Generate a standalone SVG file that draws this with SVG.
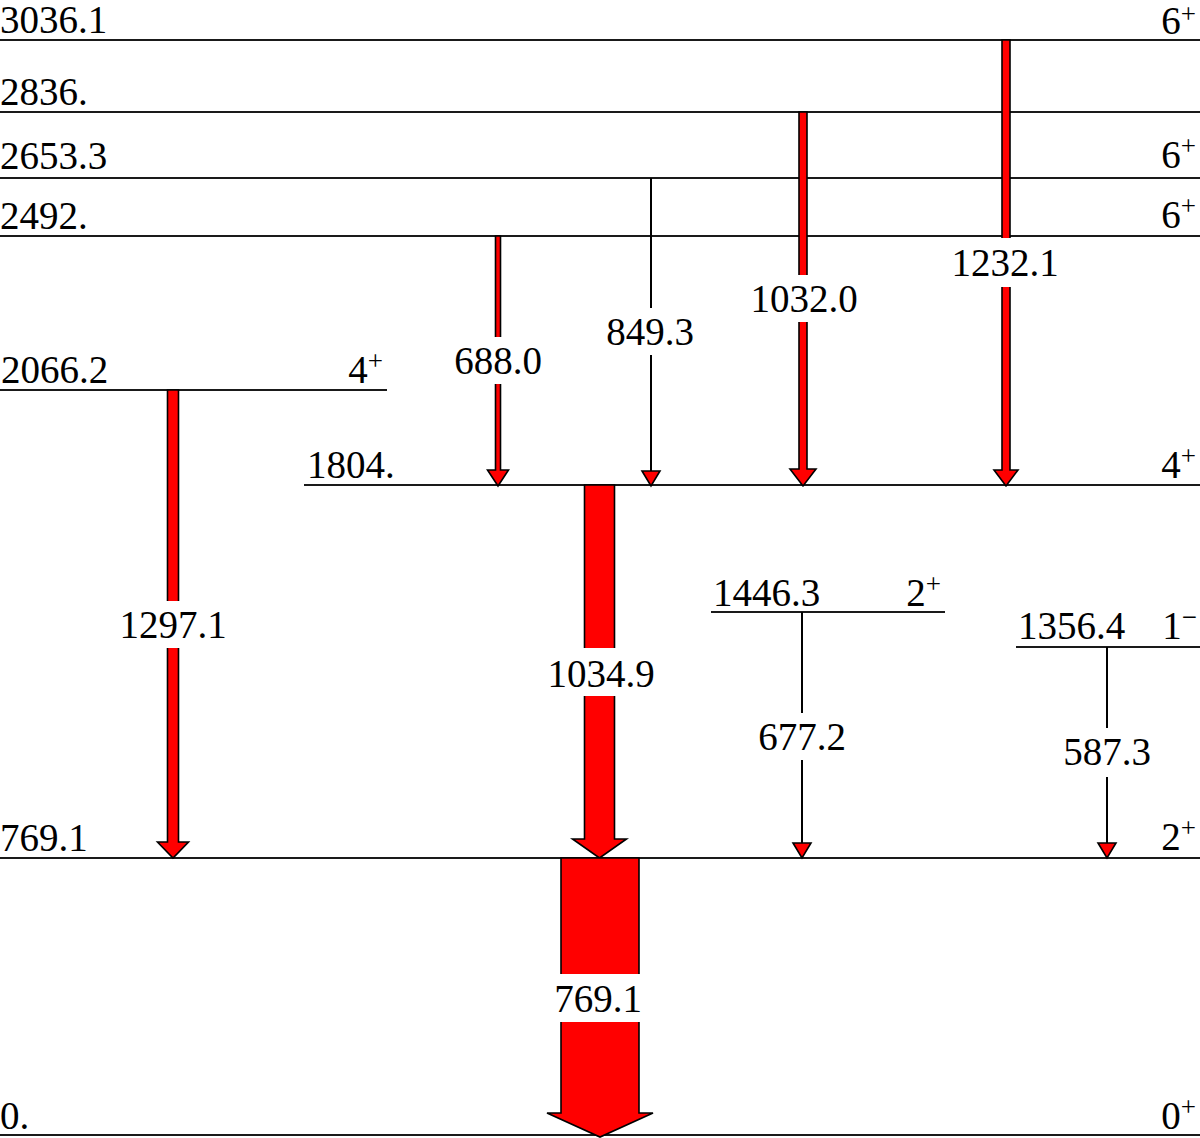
<svg xmlns="http://www.w3.org/2000/svg" width="1200" height="1138" viewBox="0 0 1200 1138">
<style>
text{font-family:"Liberation Serif","Times New Roman",serif;font-size:39px;fill:#000}
.sup{font-size:27px}
.lvl{stroke:#1a1a1a;stroke-width:2.2;fill:none}
.arr{fill:#ff0000;stroke:#000;stroke-width:1.6;stroke-linejoin:miter}
.thin{stroke:#000;stroke-width:2;fill:none}
.gap{fill:#fff;stroke:none}
.m{text-anchor:middle}
.e{text-anchor:end}
</style>
<rect width="1200" height="1138" fill="#fff"/>
<g id="levels">
<g id="L3036"><line class="lvl" x1="0" y1="40" x2="1200" y2="40"/><text x="0" y="33">3036.1</text><text class="e" x="1196" y="34">6<tspan class="sup" dy="-11" font-size="25">+</tspan></text></g>
<g id="L2836"><line class="lvl" x1="0" y1="112" x2="1200" y2="112"/><text x="0" y="105">2836.</text></g>
<g id="L2653"><line class="lvl" x1="0" y1="178" x2="1200" y2="178"/><text x="0" y="169">2653.3</text><text class="e" x="1196" y="168">6<tspan class="sup" dy="-13">+</tspan></text></g>
<g id="L2492"><line class="lvl" x1="0" y1="236" x2="1200" y2="236"/><text x="0" y="229">2492.</text><text class="e" x="1196" y="228">6<tspan class="sup" dy="-13">+</tspan></text></g>
<g id="L2066"><line class="lvl" x1="0" y1="390" x2="387" y2="390"/><text x="1" y="383">2066.2</text><text class="e" x="383" y="383">4<tspan class="sup" dy="-13">+</tspan></text></g>
<g id="L1804"><line class="lvl" x1="304" y1="485" x2="1200" y2="485"/><text x="307" y="478">1804.</text><text class="e" x="1196" y="478">4<tspan class="sup" dy="-13">+</tspan></text></g>
<g id="L1446"><line class="lvl" x1="711" y1="612" x2="945" y2="612"/><text x="713" y="606">1446.3</text><text class="e" x="941" y="606">2<tspan class="sup" dy="-13">+</tspan></text></g>
<g id="L1356"><line class="lvl" x1="1016" y1="647" x2="1200" y2="647"/><text x="1018" y="639">1356.4</text><text class="e" x="1197" y="639">1<tspan class="sup" dy="-13">−</tspan></text></g>
<g id="L769"><line class="lvl" x1="0" y1="858" x2="1200" y2="858"/><text x="0" y="851">769.1</text><text class="e" x="1196" y="850">2<tspan class="sup" dy="-13">+</tspan></text></g>
<g id="L0"><line class="lvl" x1="0" y1="1135" x2="1200" y2="1135"/><text x="0" y="1129">0.</text><text class="e" x="1196" y="1129">0<tspan class="sup" dy="-13">+</tspan></text></g>
</g>
<g id="transitions">
<g id="T1232"><polygon class="arr" points="1002,40 1010,40 1010,470 1018,470 1006,486 994,470 1002,470"/><rect class="gap" x="950" y="238" width="112" height="49"/><text class="m" x="1005" y="276">1232.1</text></g>
<g id="T1032"><polygon class="arr" points="799,112 807,112 807,469 816,469 803,486 790,469 799,469"/><rect class="gap" x="746" y="275" width="114" height="47"/><text class="m" x="804" y="312">1032.0</text></g>
<g id="T849"><line class="thin" x1="651" y1="178" x2="651" y2="471"/><polygon class="arr" points="642,471 660,471 651,486"/><rect class="gap" x="602" y="308" width="98" height="47"/><text class="m" x="650" y="345">849.3</text></g>
<g id="T688"><polygon class="arr" points="495.5,236 500.5,236 500.5,470 508.5,470 498,486 487.5,470 495.5,470"/><rect class="gap" x="450" y="337" width="96" height="47"/><text class="m" x="498" y="374">688.0</text></g>
<g id="T1297"><polygon class="arr" points="167.5,390 178.5,390 178.5,842 188.5,842 173,858 157.5,842 167.5,842"/><rect class="gap" x="118" y="601" width="110" height="47"/><text class="m" x="173" y="638">1297.1</text></g>
<g id="T1034"><polygon class="arr" points="584.5,485 614.5,485 614.5,839 626.5,839 599.5,858 572.5,839 584.5,839"/><rect class="gap" x="544" y="648" width="114" height="48"/><text class="m" x="601" y="687">1034.9</text></g>
<g id="T769"><polygon class="arr" points="561,858 639,858 639,1113 653,1113 600,1137 547,1113 561,1113"/><rect class="gap" x="552" y="974" width="96" height="48"/><text class="m" x="598" y="1012">769.1</text></g>
<g id="T677"><line class="thin" x1="802" y1="612" x2="802" y2="843"/><polygon class="arr" points="793,843 811,843 802,858"/><rect class="gap" x="754" y="713" width="96" height="47"/><text class="m" x="802" y="750">677.2</text></g>
<g id="T587"><line class="thin" x1="1107" y1="647" x2="1107" y2="843"/><polygon class="arr" points="1098,843 1116,843 1107,858"/><rect class="gap" x="1059" y="728" width="96" height="49"/><text class="m" x="1107" y="765">587.3</text></g>
</g>
</svg>
